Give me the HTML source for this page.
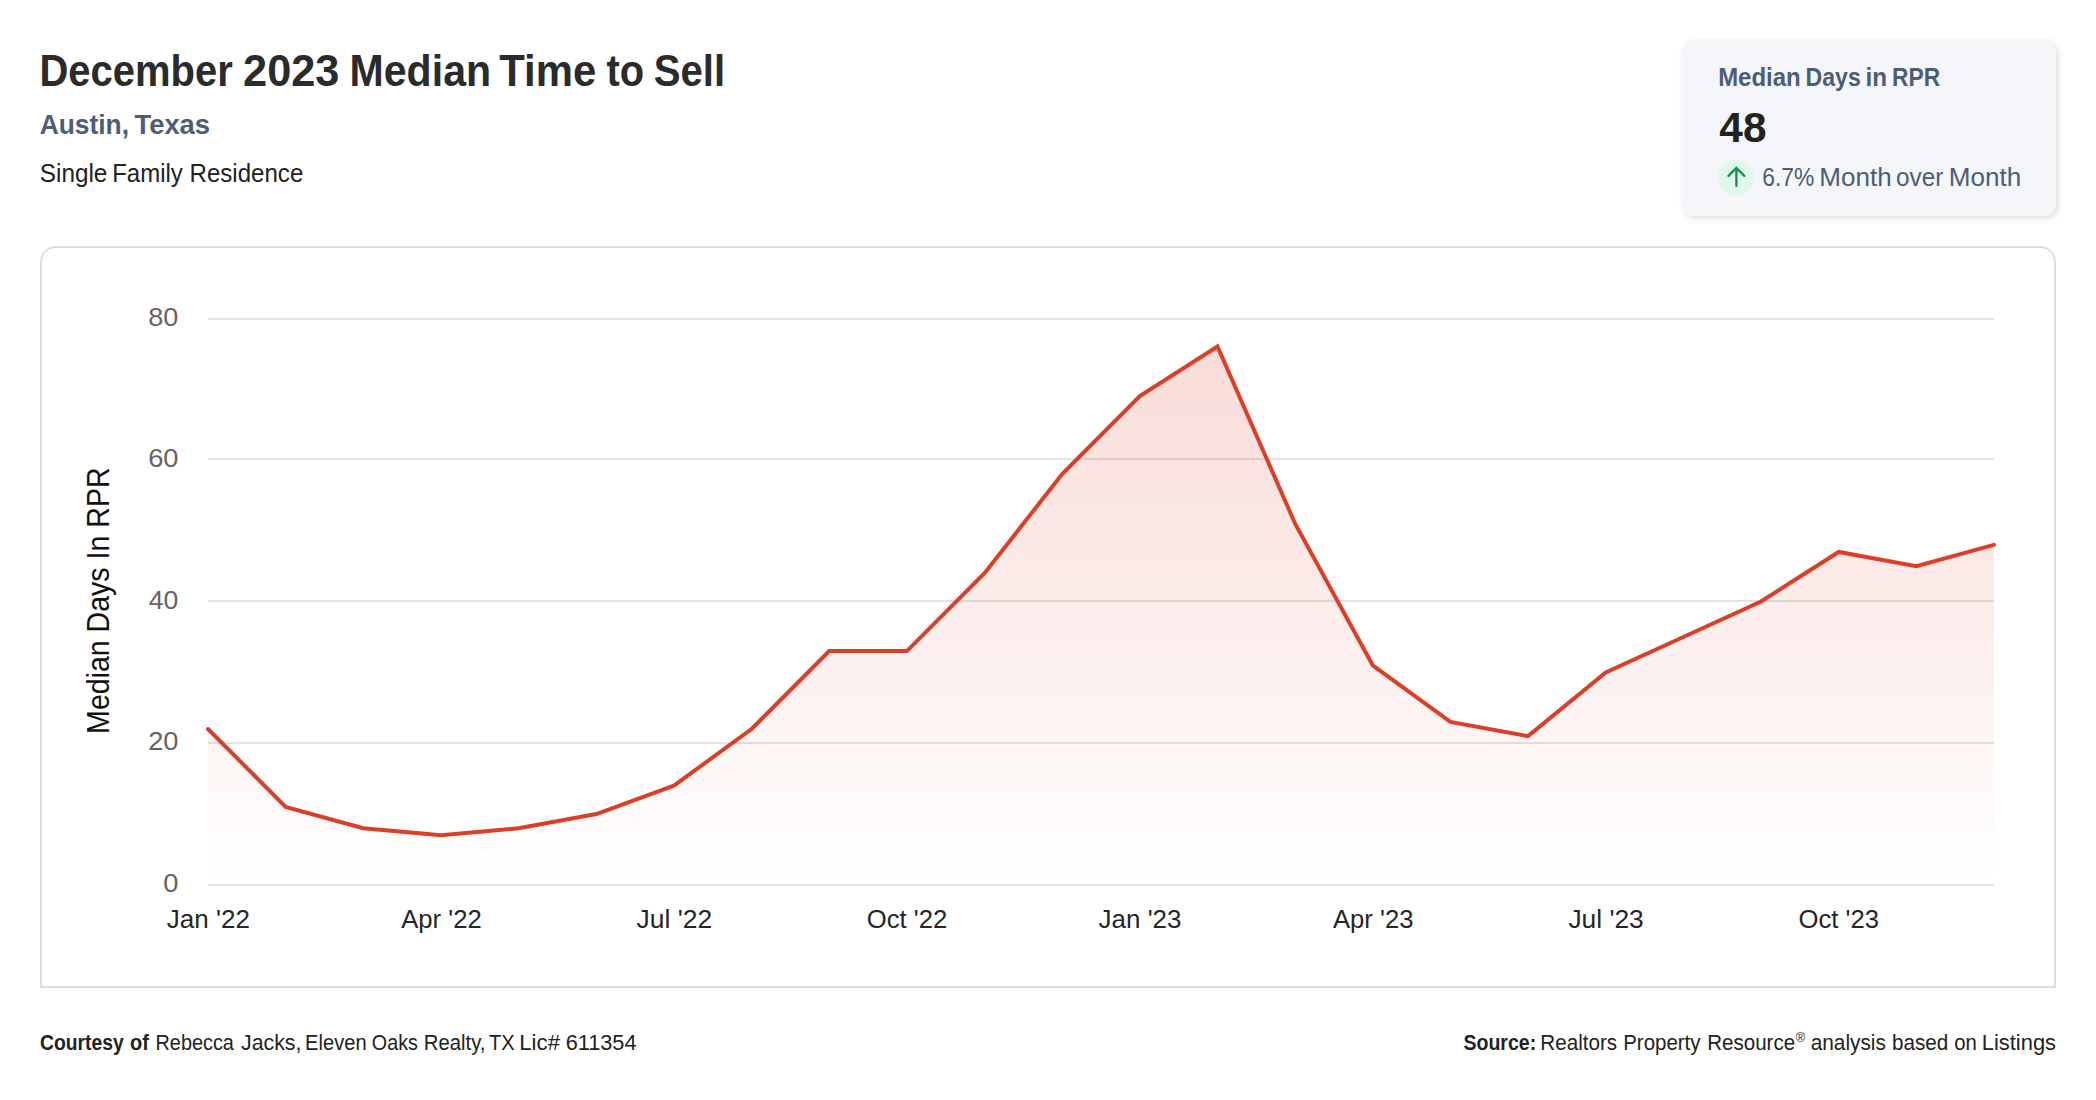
<!DOCTYPE html>
<html lang="en"><head><meta charset="utf-8"><title>December 2023 Median Time to Sell</title>
<style>
html,body{margin:0;padding:0;background:#fff;}
body{width:2096px;height:1100px;position:relative;overflow:hidden;font-family:"Liberation Sans",sans-serif;}
#card{position:absolute;left:1682px;top:40px;width:374px;height:176px;background:#f5f6fa;border-radius:12px;box-shadow:2px 2px 6.5px rgba(0,0,0,.14);}
#box{position:absolute;left:40px;top:246px;width:2012px;height:738px;border:2px solid #d9deeb;border-radius:16px 16px 0 0;background:#fff;}
svg{position:absolute;left:0;top:0;}
svg text{font-family:"Liberation Sans",sans-serif;white-space:pre;}
</style></head>
<body>
<div id="card"></div>
<div id="box"></div>
<svg width="2096" height="1100" viewBox="0 0 2096 1100">
<defs>
<linearGradient id="ag" gradientUnits="userSpaceOnUse" x1="0" y1="346" x2="0" y2="885">
<stop offset="0" stop-color="#dc3e26" stop-opacity="0.185"/>
<stop offset="1" stop-color="#dc3e26" stop-opacity="0.0"/>
</linearGradient>
</defs>
<rect x="208" y="318" width="1786" height="2" fill="#e3e3e3"/><rect x="208" y="458" width="1786" height="2" fill="#e3e3e3"/><rect x="208" y="600" width="1786" height="2" fill="#e3e3e3"/><rect x="208" y="742" width="1786" height="2" fill="#e3e3e3"/><rect x="208" y="884" width="1786" height="2" fill="#e3e3e3"/>
<path d="M208.00 729.02 L285.65 806.94 L363.30 828.19 L440.96 835.27 L518.61 828.19 L596.26 814.02 L673.91 785.69 L751.57 729.02 L829.22 651.11 L906.87 651.11 L984.52 573.20 L1062.17 474.04 L1139.83 396.12 L1217.48 346.54 L1295.13 523.62 L1372.78 665.28 L1450.43 721.94 L1528.09 736.11 L1605.74 672.36 L1683.39 636.95 L1761.04 601.53 L1838.70 551.95 L1916.35 566.12 L1994.00 544.87 L1994.00 884.85 L208.00 884.85 Z" fill="url(#ag)"/>
<path d="M208.00 729.02 L285.65 806.94 L363.30 828.19 L440.96 835.27 L518.61 828.19 L596.26 814.02 L673.91 785.69 L751.57 729.02 L829.22 651.11 L906.87 651.11 L984.52 573.20 L1062.17 474.04 L1139.83 396.12 L1217.48 346.54 L1295.13 523.62 L1372.78 665.28 L1450.43 721.94 L1528.09 736.11 L1605.74 672.36 L1683.39 636.95 L1761.04 601.53 L1838.70 551.95 L1916.35 566.12 L1994.00 544.87" fill="none" stroke="#dc3e26" stroke-width="4" stroke-linecap="round" stroke-linejoin="miter"/>
<circle cx="1736" cy="177.9" r="18.1" fill="#e0f8eb"/>
<path d="M1736.4 186.1 V168.2 M1728.5 175.9 L1736.4 168 L1744.3 175.9" fill="none" stroke="#12904f" stroke-width="2.3" stroke-linecap="round" stroke-linejoin="miter"/>
<text x="39.40" y="86" font-size="43.5" font-weight="bold" fill="#2b2b2b" textLength="193.40" lengthAdjust="spacingAndGlyphs">December</text>
<text x="243.07" y="86" font-size="43.5" font-weight="bold" fill="#2b2b2b" textLength="96.42" lengthAdjust="spacingAndGlyphs">2023</text>
<text x="349.56" y="86" font-size="43.5" font-weight="bold" fill="#2b2b2b" textLength="141.54" lengthAdjust="spacingAndGlyphs">Median</text>
<text x="499.31" y="86" font-size="43.5" font-weight="bold" fill="#2b2b2b" textLength="96.93" lengthAdjust="spacingAndGlyphs">Time</text>
<text x="606.38" y="86" font-size="43.5" font-weight="bold" fill="#2b2b2b" textLength="37.66" lengthAdjust="spacingAndGlyphs">to</text>
<text x="653.69" y="86" font-size="43.5" font-weight="bold" fill="#2b2b2b" textLength="71.46" lengthAdjust="spacingAndGlyphs">Sell</text>
<text x="39.65" y="134.1" font-size="28.5" font-weight="bold" fill="#4d5d78" textLength="89.33" lengthAdjust="spacingAndGlyphs">Austin,</text>
<text x="134.49" y="134.1" font-size="28.5" font-weight="bold" fill="#4d5d78" textLength="75.59" lengthAdjust="spacingAndGlyphs">Texas</text>
<text x="39.81" y="181.7" font-size="25" font-weight="normal" fill="#222" textLength="67.55" lengthAdjust="spacingAndGlyphs">Single</text>
<text x="112.18" y="181.7" font-size="25" font-weight="normal" fill="#222" textLength="70.71" lengthAdjust="spacingAndGlyphs">Family</text>
<text x="189.50" y="181.7" font-size="25" font-weight="normal" fill="#222" textLength="113.78" lengthAdjust="spacingAndGlyphs">Residence</text>
<text x="1718.15" y="86.1" font-size="25" font-weight="bold" fill="#4d5d78" textLength="82.60" lengthAdjust="spacingAndGlyphs">Median</text>
<text x="1805.61" y="86.1" font-size="25" font-weight="bold" fill="#4d5d78" textLength="55.19" lengthAdjust="spacingAndGlyphs">Days</text>
<text x="1865.60" y="86.1" font-size="25" font-weight="bold" fill="#4d5d78" textLength="21.54" lengthAdjust="spacingAndGlyphs">in</text>
<text x="1892.11" y="86.1" font-size="25" font-weight="bold" fill="#4d5d78" textLength="48.09" lengthAdjust="spacingAndGlyphs">RPR</text>
<text x="1719.35" y="142.4" font-size="43" font-weight="bold" fill="#222" textLength="47.13" lengthAdjust="spacingAndGlyphs">48</text>
<text x="1762.30" y="185.7" font-size="25" font-weight="normal" fill="#4d5d78" textLength="52.08" lengthAdjust="spacingAndGlyphs">6.7%</text>
<text x="1819.39" y="185.7" font-size="25" font-weight="normal" fill="#4d5d78" textLength="72.33" lengthAdjust="spacingAndGlyphs">Month</text>
<text x="1896.12" y="185.7" font-size="25" font-weight="normal" fill="#4d5d78" textLength="47.28" lengthAdjust="spacingAndGlyphs">over</text>
<text x="1948.71" y="185.7" font-size="25" font-weight="normal" fill="#4d5d78" textLength="72.48" lengthAdjust="spacingAndGlyphs">Month</text>
<text x="39.94" y="1049.8" font-size="21.5" font-weight="bold" fill="#222" textLength="83.72" lengthAdjust="spacingAndGlyphs">Courtesy</text>
<text x="130.05" y="1049.8" font-size="21.5" font-weight="bold" fill="#222" textLength="18.83" lengthAdjust="spacingAndGlyphs">of</text>
<text x="155.49" y="1049.8" font-size="21.5" font-weight="normal" fill="#222" textLength="78.42" lengthAdjust="spacingAndGlyphs">Rebecca</text>
<text x="241.07" y="1049.8" font-size="21.5" font-weight="normal" fill="#222" textLength="60.36" lengthAdjust="spacingAndGlyphs">Jacks,</text>
<text x="305.09" y="1049.8" font-size="21.5" font-weight="normal" fill="#222" textLength="61.50" lengthAdjust="spacingAndGlyphs">Eleven</text>
<text x="371.84" y="1049.8" font-size="21.5" font-weight="normal" fill="#222" textLength="46.03" lengthAdjust="spacingAndGlyphs">Oaks</text>
<text x="423.81" y="1049.8" font-size="21.5" font-weight="normal" fill="#222" textLength="61.71" lengthAdjust="spacingAndGlyphs">Realty,</text>
<text x="489.00" y="1049.8" font-size="21.5" font-weight="normal" fill="#222" textLength="25.67" lengthAdjust="spacingAndGlyphs">TX</text>
<text x="519.20" y="1049.8" font-size="21.5" font-weight="normal" fill="#222" textLength="40.85" lengthAdjust="spacingAndGlyphs">Lic#</text>
<text x="565.65" y="1049.8" font-size="21.5" font-weight="normal" fill="#222" textLength="70.91" lengthAdjust="spacingAndGlyphs">611354</text>
<text x="1463.48" y="1049.8" font-size="21.5" font-weight="bold" fill="#222" textLength="72.70" lengthAdjust="spacingAndGlyphs">Source:</text>
<text x="1540.36" y="1049.8" font-size="21.5" font-weight="normal" fill="#222" textLength="76.72" lengthAdjust="spacingAndGlyphs">Realtors</text>
<text x="1623.19" y="1049.8" font-size="21.5" font-weight="normal" fill="#222" textLength="77.30" lengthAdjust="spacingAndGlyphs">Property</text>
<text x="1707.22" y="1049.8" font-size="21.5" font-weight="normal" fill="#222" textLength="87.91" lengthAdjust="spacingAndGlyphs">Resource</text>
<text x="1810.63" y="1049.8" font-size="21.5" font-weight="normal" fill="#222" textLength="75.26" lengthAdjust="spacingAndGlyphs">analysis</text>
<text x="1892.07" y="1049.8" font-size="21.5" font-weight="normal" fill="#222" textLength="56.24" lengthAdjust="spacingAndGlyphs">based</text>
<text x="1954.32" y="1049.8" font-size="21.5" font-weight="normal" fill="#222" textLength="22.60" lengthAdjust="spacingAndGlyphs">on</text>
<text x="1981.78" y="1049.8" font-size="21.5" font-weight="normal" fill="#222" textLength="74.26" lengthAdjust="spacingAndGlyphs">Listings</text>
<text x="1795.86" y="1042.2" font-size="12" font-weight="normal" fill="#222" textLength="9.30" lengthAdjust="spacingAndGlyphs">®</text>
<text x="166.86" y="927.9" font-size="26.7" font-weight="normal" fill="#262626" textLength="83.04" lengthAdjust="spacingAndGlyphs">Jan '22</text>
<text x="401.26" y="927.9" font-size="26.7" font-weight="normal" fill="#262626" textLength="80.44" lengthAdjust="spacingAndGlyphs">Apr '22</text>
<text x="636.50" y="927.9" font-size="26.7" font-weight="normal" fill="#262626" textLength="75.62" lengthAdjust="spacingAndGlyphs">Jul '22</text>
<text x="866.71" y="927.9" font-size="26.7" font-weight="normal" fill="#262626" textLength="80.55" lengthAdjust="spacingAndGlyphs">Oct '22</text>
<text x="1098.60" y="927.9" font-size="26.7" font-weight="normal" fill="#262626" textLength="82.89" lengthAdjust="spacingAndGlyphs">Jan '23</text>
<text x="1332.96" y="927.9" font-size="26.7" font-weight="normal" fill="#262626" textLength="80.52" lengthAdjust="spacingAndGlyphs">Apr '23</text>
<text x="1568.38" y="927.9" font-size="26.7" font-weight="normal" fill="#262626" textLength="75.38" lengthAdjust="spacingAndGlyphs">Jul '23</text>
<text x="1798.55" y="927.9" font-size="26.7" font-weight="normal" fill="#262626" textLength="80.50" lengthAdjust="spacingAndGlyphs">Oct '23</text>
<text x="148.33" y="325.6" font-size="26.5" font-weight="normal" fill="#646464" textLength="30.06" lengthAdjust="spacingAndGlyphs">80</text>
<text x="148.17" y="467.2" font-size="26.5" font-weight="normal" fill="#646464" textLength="30.32" lengthAdjust="spacingAndGlyphs">60</text>
<text x="148.85" y="608.8" font-size="26.5" font-weight="normal" fill="#646464" textLength="29.55" lengthAdjust="spacingAndGlyphs">40</text>
<text x="148.23" y="750.4" font-size="26.5" font-weight="normal" fill="#646464" textLength="30.30" lengthAdjust="spacingAndGlyphs">20</text>
<text x="163.19" y="892.0" font-size="26.5" font-weight="normal" fill="#646464" textLength="15.18" lengthAdjust="spacingAndGlyphs">0</text>
<g transform="translate(109.3 600.7) rotate(-90)"><text x="-133.2" y="0" font-size="32" fill="#111" textLength="266.4" lengthAdjust="spacingAndGlyphs">Median Days In RPR</text></g>
</svg>
</body></html>
